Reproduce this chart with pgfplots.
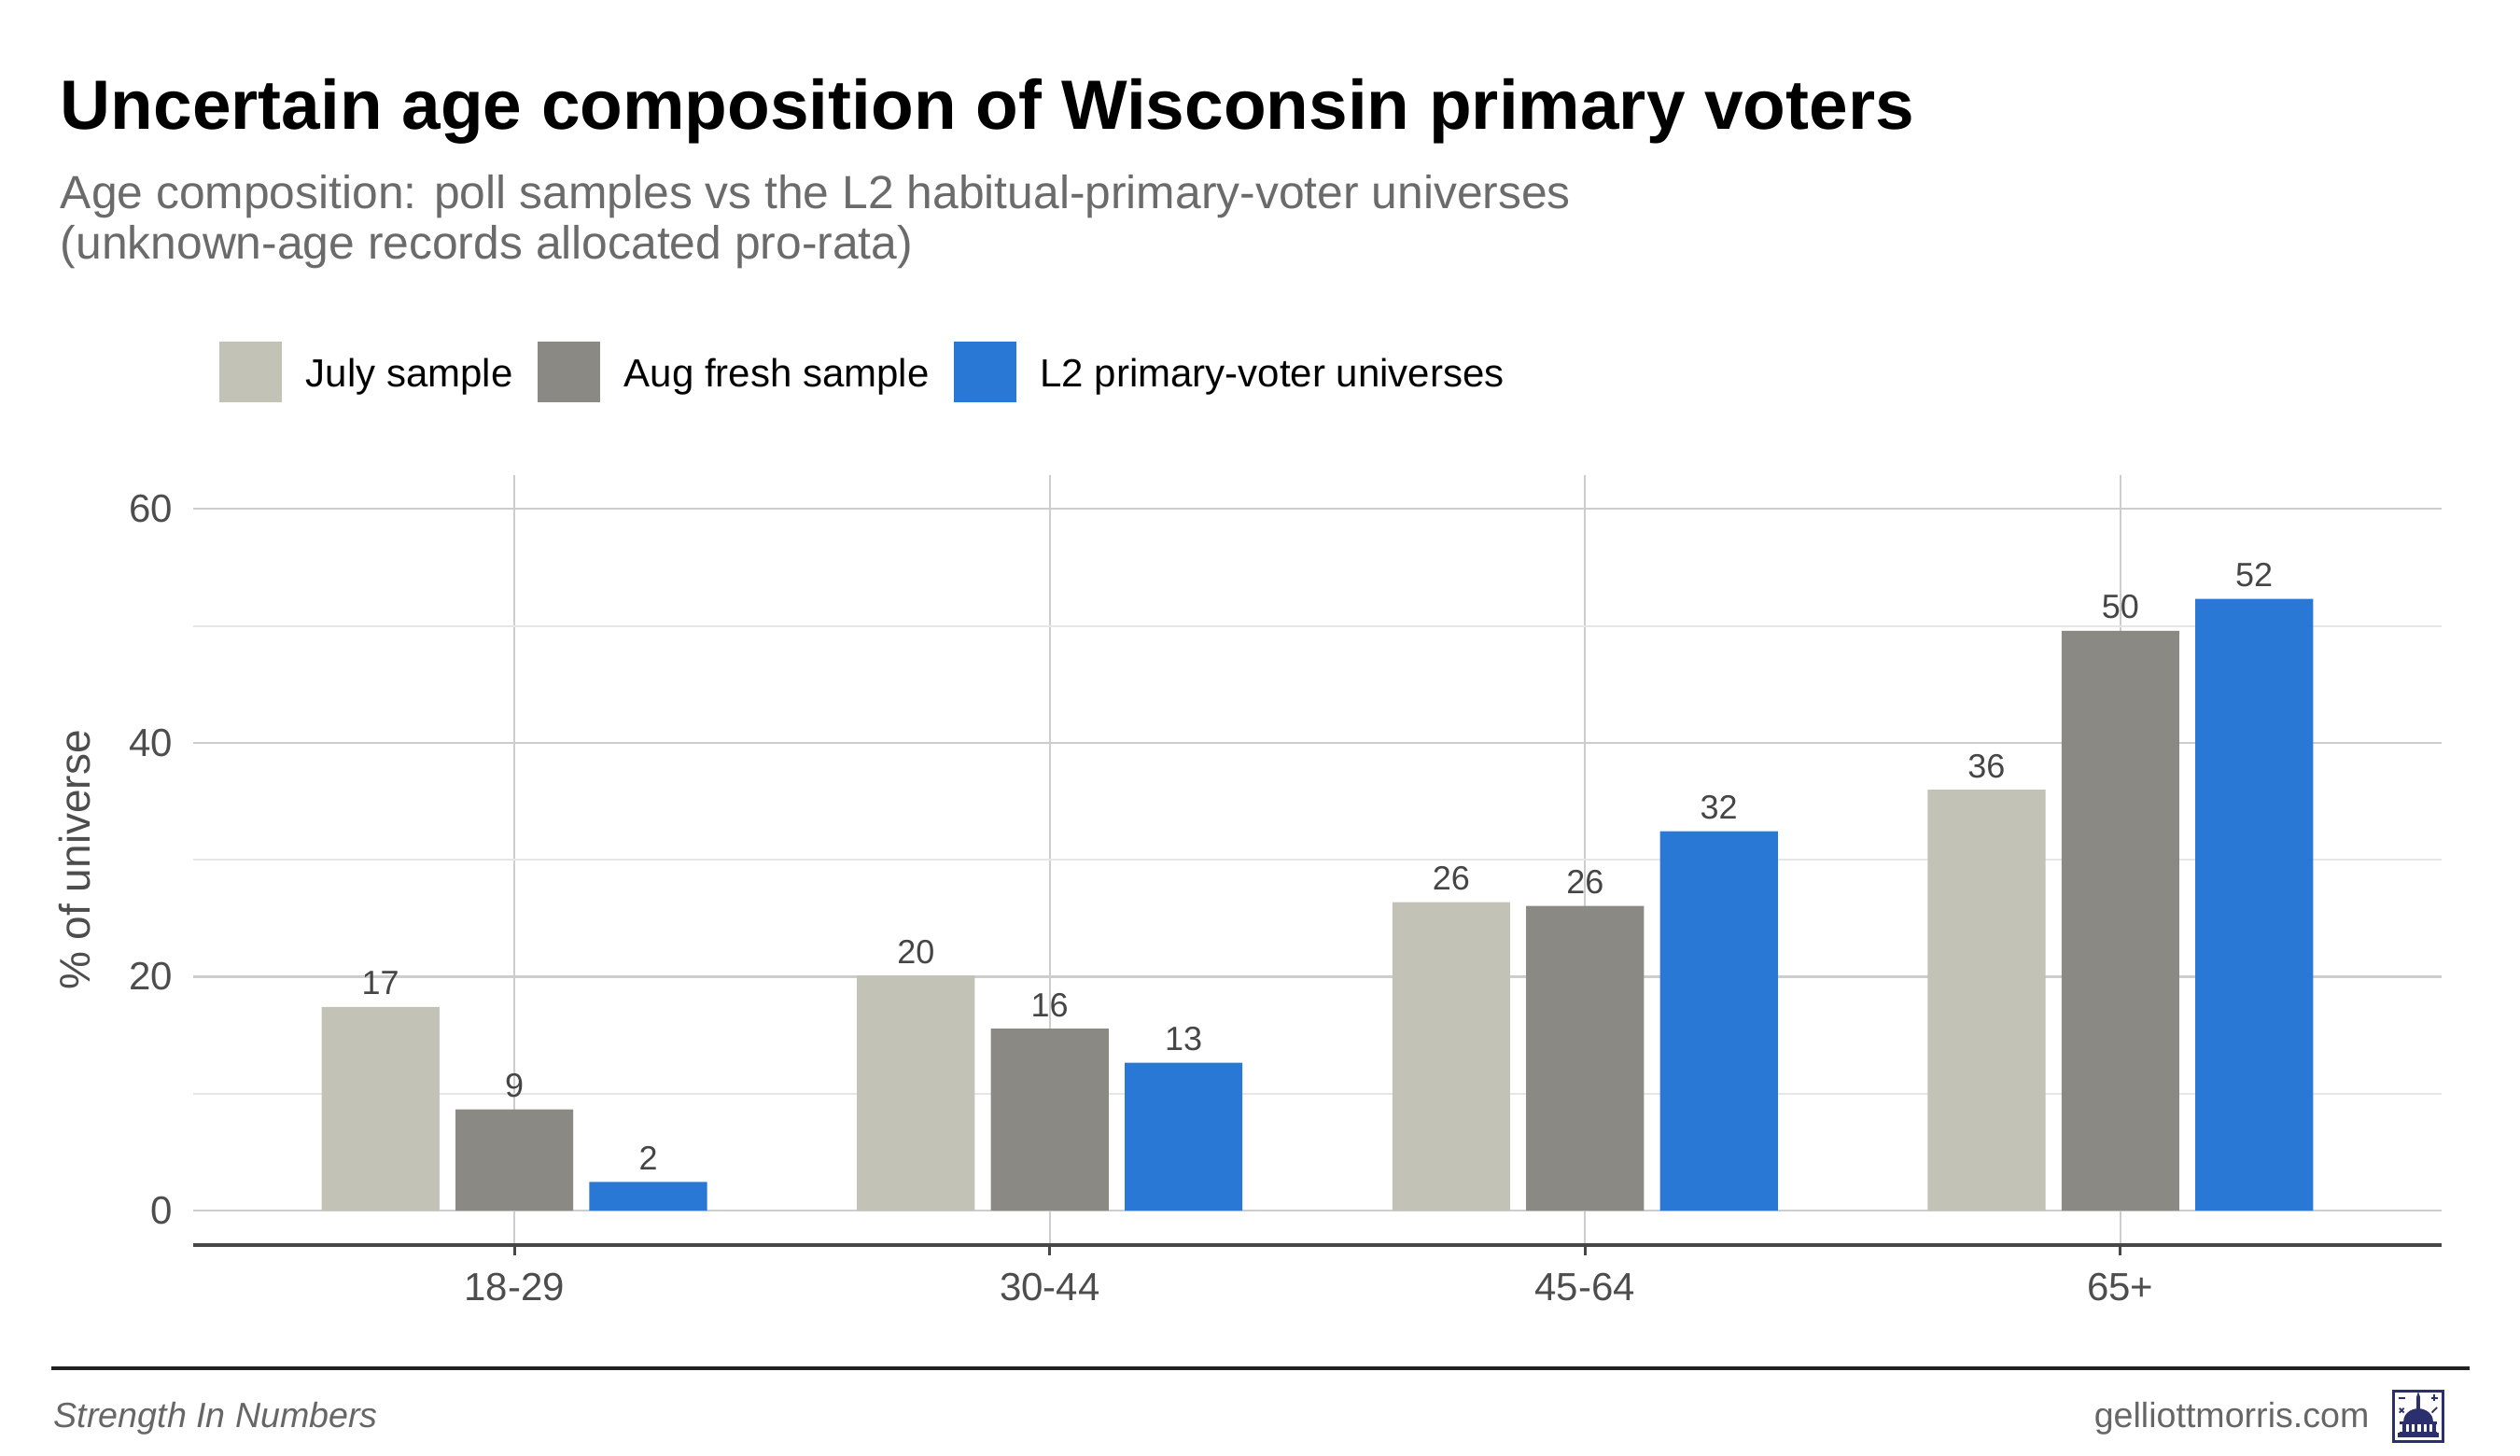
\documentclass[border=0pt]{standalone}
\usepackage{fontspec}
\setmainfont{Liberation Sans}
\usepackage{pgfplots}
\pgfplotsset{compat=1.18}
\definecolor{july}{HTML}{C2C2B6}
\definecolor{aug}{HTML}{8A8983}
\definecolor{ltwo}{HTML}{2A78D6}
\definecolor{gridmaj}{HTML}{CDCDCD}
\definecolor{gridmin}{HTML}{E6E6E6}
\definecolor{axisdark}{HTML}{474747}
\definecolor{ticklab}{HTML}{4D4D4D}
\definecolor{vallab}{HTML}{454545}
\definecolor{subgray}{HTML}{6B6B6B}
\definecolor{footgray}{HTML}{666666}
\definecolor{navy}{HTML}{2B2F6E}
\begin{document}
\begin{tikzpicture}
\path[use as bounding box] (0,0) rectangle (675pt,390pt);
% titles
\node[anchor=base west, inner sep=0pt, font=\fontsize{18.7}{22}\selectfont\bfseries] at (16pt,355.25pt) {Uncertain age composition of Wisconsin primary voters};
\node[anchor=base west, inner sep=0pt, font=\fontsize{12.45}{14}\selectfont, text=subgray] at (16pt,334pt) {Age composition: poll samples vs the L2 habitual-primary-voter universes};
\node[anchor=base west, inner sep=0pt, font=\fontsize{12.45}{14}\selectfont, text=subgray] at (16pt,320.5pt) {(unknown-age records allocated pro-rata)};
\begin{axis}[
  at={(51.75pt,56.5pt)}, anchor=south west, scale only axis,
  width=602.25pt, height=206.25pt,
  xmin=-0.6, xmax=3.6, ymin=-2.95, ymax=62.9,
  xtick={0,1,2,3}, xticklabels={18-29,30-44,45-64,65+},
  ytick={0,20,40,60}, minor ytick={10,30,50},
  xmajorgrids, ymajorgrids, yminorgrids,
  major grid style={draw=gridmaj, line width=0.6pt},
  minor grid style={draw=gridmin, line width=0.5pt},
  axis x line*=bottom, axis y line*=left,
  x axis line style={draw=axisdark, line width=1.1pt},
  y axis line style={draw=none},
  tick align=outside,
  major tick length=2.75pt,
  xtick style={draw=axisdark, line width=0.8pt},
  ytick style={draw=none}, minor tick style={draw=none},
  /pgf/number format/assume math mode=true,
  xticklabel style={font=\fontsize{10.5}{12}\selectfont, text=ticklab, inner sep=0pt, anchor=north, yshift=-4.5pt},
  yticklabel style={font=\fontsize{10.5}{12}\selectfont, text=ticklab, inner sep=0pt, anchor=east, xshift=-2.5pt},
  every axis y label/.style={at={(axis description cs:-0.0527,0.5)}, rotate=90, anchor=center, font=\fontsize{11.5}{13}\selectfont, text=ticklab},
  ylabel={\% of universe},
  ybar, bar width=0.22,
  nodes near coords={\pgfmathprintnumber[fixed,precision=0]{\pgfplotspointmeta}},
  every node near coord/.append style={font=\fontsize{9}{10}\selectfont, text=vallab, inner sep=0pt, anchor=south, yshift=3pt},
  legend columns=3,
  legend style={at={(0.0116,1.134)}, anchor=west, draw=none, fill=none, inner sep=0pt, outer sep=0pt,
    nodes={inner sep=0pt, font=\fontsize{10.5}{12}\selectfont, text=black},
    /tikz/every odd column/.append style={column sep=6.5pt},
    /tikz/every even column/.append style={column sep=6.5pt}},
  legend image code/.code={\fill[#1, draw=none] (0pt,-7.2pt) rectangle (16.75pt,9.05pt);},
]
\addplot[fill=july, draw=none, bar shift=-0.25] coordinates {(0,17.42) (1,20.1) (2,26.38) (3,35.98)};
\addlegendentry{July sample}
\addplot[fill=aug, draw=none, bar shift=0] coordinates {(0,8.66) (1,15.55) (2,26.06) (3,49.57)};
\addlegendentry{Aug fresh sample}
\addplot[fill=ltwo, draw=none, bar shift=0.25] coordinates {(0,2.44) (1,12.65) (2,32.44) (3,52.31)};
\addlegendentry{L2 primary-voter universes}
\end{axis}
% footer
\draw[draw=black!87, line width=1pt] (13.75pt,23.5pt) -- (661.5pt,23.5pt);
\node[anchor=base west, inner sep=0pt, font=\fontsize{9.4}{11}\selectfont\itshape, text=footgray] at (14.25pt,7.5pt) {Strength In Numbers};
\node[anchor=base east, inner sep=0pt, font=\fontsize{9.4}{11}\selectfont, text=footgray] at (634.8pt,7.5pt) {gelliottmorris.com};
% logo
\draw[navy, line width=0.7pt] (641.1pt,3.85pt) rectangle (654.4pt,17.4pt);
\fill[navy] (642.3pt,5pt) rectangle (653.2pt,6.2pt);
\fill[navy] (642.8pt,6.2pt) rectangle (652.7pt,6.6pt);
\foreach \cx in {643.6,645.2,646.8,648.4,650.0,651.6}{\fill[navy] (\cx pt,6.6pt) rectangle ++(0.8pt,2pt);}
\fill[navy] (642.8pt,8.6pt) rectangle (652.7pt,9.3pt);
\fill[navy] (643.8pt,9.3pt) arc[start angle=180, end angle=0, x radius=3.95pt, y radius=3.4pt] -- cycle;
\fill[navy] (647.3pt,12.5pt) rectangle (648.2pt,15.8pt);
\fill[navy] (647.75pt,17.2pt) -- (647.2pt,15.6pt) -- (648.3pt,15.6pt) -- cycle;
\draw[navy, line width=0.5pt] (642.5pt,15.6pt) -- (644.3pt,15.6pt);
\draw[navy, line width=0.5pt] (651.2pt,15.6pt) -- (653pt,15.6pt) (652.1pt,14.7pt) -- (652.1pt,16.5pt);
\draw[navy, line width=0.45pt] (642.7pt,11.6pt) -- (643.9pt,12.8pt) (642.7pt,12.8pt) -- (643.9pt,11.6pt);
\draw[navy, line width=0.45pt] (651.4pt,11.6pt) -- (652.8pt,13pt);
\end{tikzpicture}
\end{document}
